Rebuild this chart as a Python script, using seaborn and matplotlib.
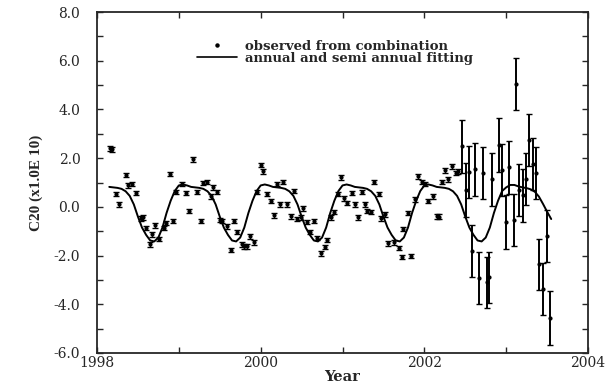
import numpy as np
import pandas as pd
import matplotlib
matplotlib.use("Agg")
import matplotlib.pyplot as plt
import seaborn as sns
from matplotlib.lines import Line2D
from matplotlib.legend_handler import HandlerLine2D

# observed C20 (x1.0E-10), well determined part
obs_year = [1998.16, 1998.18, 1998.23, 1998.27, 1998.35, 1998.38, 1998.43, 1998.48,
            1998.54, 1998.56, 1998.60, 1998.65, 1998.67, 1998.71, 1998.76, 1998.82,
            1998.84, 1998.89, 1998.93, 1998.97, 1999.04, 1999.09, 1999.12, 1999.17,
            1999.22, 1999.27, 1999.30, 1999.34, 1999.39, 1999.42, 1999.47, 1999.50,
            1999.53, 1999.59, 1999.64, 1999.67, 1999.71, 1999.77, 1999.80, 1999.83,
            1999.87, 1999.92, 1999.96, 2000.00, 2000.03, 2000.08, 2000.13, 2000.16,
            2000.20, 2000.24, 2000.27, 2000.32, 2000.37, 2000.41, 2000.44, 2000.49,
            2000.52, 2000.57, 2000.60, 2000.65, 2000.69, 2000.74, 2000.78, 2000.81,
            2000.86, 2000.90, 2000.95, 2000.98, 2001.02, 2001.06, 2001.12, 2001.15,
            2001.19, 2001.24, 2001.28, 2001.30, 2001.35, 2001.39, 2001.44, 2001.47,
            2001.52, 2001.56, 2001.63, 2001.69, 2001.73, 2001.74, 2001.80, 2001.84,
            2001.89, 2001.92, 2001.97, 2002.01, 2002.05, 2002.10, 2002.16, 2002.18,
            2002.22, 2002.25, 2002.29, 2002.34, 2002.39, 2002.41]
obs_val = [2.41, 2.37, 0.53, 0.11, 1.31, 0.89, 0.94, 0.57,
           -0.46, -0.42, -0.87, -1.53, -1.12, -0.75, -1.32, -0.87,
           -0.66, 1.35, -0.58, 0.61, 0.94, 0.57, -0.17, 1.96,
           0.61, -0.58, 0.98, 1.02, 0.44, 0.81, 0.61, -0.54,
           -0.58, -0.79, -1.77, -0.58, -1.03, -1.53, -1.61, -1.61,
           -1.20, -1.45, 0.61, 1.72, 1.47, 0.53, 0.24, -0.34,
           0.94, 0.11, 1.02, 0.11, -0.38, 0.65, -0.50, -0.42,
           -0.05, -0.62, -1.03, -0.58, -1.28, -1.90, -1.65, -1.36,
           -0.42, -0.21, 0.53, 1.22, 0.36, 0.16, 0.57, 0.11,
           -0.42, 0.61, 0.11, -0.17, -0.21, 1.02, 0.53, -0.46,
           -0.30, -1.49, -1.45, -1.69, -2.06, -0.91, -0.25, -2.02,
           0.32, 1.26, 1.02, 0.94, 0.24, 0.44, -0.38, -0.40,
           1.02, 1.51, 1.14, 1.67, 1.39, 1.47]
obs_err = 0.1

# observed, noisy part (2002.5 onwards)
noisy_year = [2002.46, 2002.51, 2002.55, 2002.58, 2002.62, 2002.67, 2002.72, 2002.76,
              2002.79, 2002.83, 2002.91, 2002.95, 2003.00, 2003.04, 2003.09, 2003.12,
              2003.16, 2003.21, 2003.24, 2003.28, 2003.33, 2003.37, 2003.40, 2003.45,
              2003.50, 2003.54]
noisy_val = [2.49, 0.69, 1.43, -1.82, 1.55, -2.92, 1.39, -3.09,
             -2.89, 1.14, 2.54, 1.51, -0.62, 1.63, -0.54, 5.04,
             0.69, 0.48, 1.14, 2.74, 1.76, 1.39, -2.35, -3.38,
             -1.20, -4.57]
noisy_err = [1.09, 1.10, 1.07, 1.07, 1.09, 1.07, 1.05, 1.05,
             1.05, 1.09, 1.09, 1.07, 1.11, 1.09, 1.07, 1.07,
             1.07, 1.09, 1.07, 1.07, 1.05, 1.05, 1.05, 1.07,
             1.07, 1.10]

# annual and semi annual fitting, read every 0.05 yr from 1998.15
curve_val = [0.82, 0.80, 0.78, 0.74, 0.64, 0.45, 0.10, -0.40, -0.85, -1.15, -1.38, -1.42, -1.26, -0.85, -0.25, 0.25, 0.65,
             0.88, 0.92, 0.88, 0.82, 0.80, 0.78, 0.74, 0.64, 0.45, 0.10, -0.40, -0.85, -1.15, -1.38, -1.42, -1.26, -0.85, -0.25, 0.25, 0.65,
             0.88, 0.92, 0.88, 0.82, 0.80, 0.78, 0.74, 0.64, 0.45, 0.10, -0.40, -0.85, -1.15, -1.38, -1.42, -1.26, -0.85, -0.25, 0.25, 0.65,
             0.88, 0.92, 0.88, 0.82, 0.80, 0.78, 0.74, 0.64, 0.45, 0.10, -0.40, -0.85, -1.15, -1.38, -1.42, -1.26, -0.85, -0.25, 0.25, 0.65,
             0.88, 0.92, 0.88, 0.82, 0.80, 0.78, 0.74, 0.64, 0.45, 0.10, -0.40, -0.85, -1.15, -1.38, -1.42, -1.26, -0.85, -0.25, 0.25, 0.65,
             0.80, 0.90, 0.90, 0.84, 0.80, 0.77, 0.72, 0.62, 0.42, 0.12, -0.20, -0.50]
curve_year = np.round(1998.15 + 0.05 * np.arange(len(curve_val)), 2)

fit = pd.DataFrame({"year": curve_year, "c20": curve_val})

sns.set_style("ticks")
plt.rcParams["font.family"] = ["DejaVu Serif"]

fig = plt.figure(figsize=(6.1, 3.9), dpi=100)
ax = fig.add_axes([0.159, 0.095, 0.805, 0.874])

sns.lineplot(data=fit, x="year", y="c20", color="black", linewidth=1.4, ax=ax)

ax.errorbar(obs_year, obs_val, yerr=obs_err, fmt="o", color="black",
            markersize=2, elinewidth=1.0, capsize=2.0, capthick=1.0)
ax.errorbar(noisy_year, noisy_val, yerr=noisy_err, fmt="o", color="black",
            markersize=2, elinewidth=1.4, capsize=2.5, capthick=1.0)

ax.set_xlim(1998, 2004)
ax.set_ylim(-6, 8)
ax.set_xticks([1998, 2000, 2002, 2004])
ax.set_xticks([1999, 2001, 2003], minor=True)
ax.set_yticks(np.arange(-6, 9, 2))
ax.set_yticks(np.arange(-5, 8, 2), minor=True)
ax.yaxis.set_major_formatter(matplotlib.ticker.FormatStrFormatter("%.1f"))
ax.tick_params(which="both", direction="in", top=True, right=True,
               length=4, width=1.0, labelsize=10)
ax.tick_params(axis="x", pad=2)
ax.tick_params(axis="y", pad=12)
for s in ax.spines.values():
    s.set_linewidth(1.3)

ax.set_xlabel("Year", fontsize=10.5, fontweight="bold", labelpad=0)
ax.set_ylabel("C20 (x1.0E 10)", fontsize=11, fontweight="bold",
              family="Liberation Serif", labelpad=8)


class DotAtEnd(HandlerLine2D):
    def get_xdata(self, legend, xdescent, ydescent, width, height, fontsize):
        xdata, _ = super().get_xdata(legend, xdescent, ydescent, width, height, fontsize)
        return xdata, [-xdescent + width]


dot = Line2D([], [], ls="none", marker="o", markersize=2.2, color="black")
line = Line2D([], [], color="black", linewidth=1.2)
ax.legend([dot, line], ["observed from combination", "annual and semi annual fitting"],
          handler_map={dot: DotAtEnd(numpoints=1)},
          loc="upper left", bbox_to_anchor=(0.204, 0.918), frameon=False,
          borderpad=0, borderaxespad=0, handlelength=3.0, handletextpad=0.6,
          labelspacing=-0.1, prop={"weight": "bold", "size": 9.5})

fig.savefig("out.png", dpi=100)
